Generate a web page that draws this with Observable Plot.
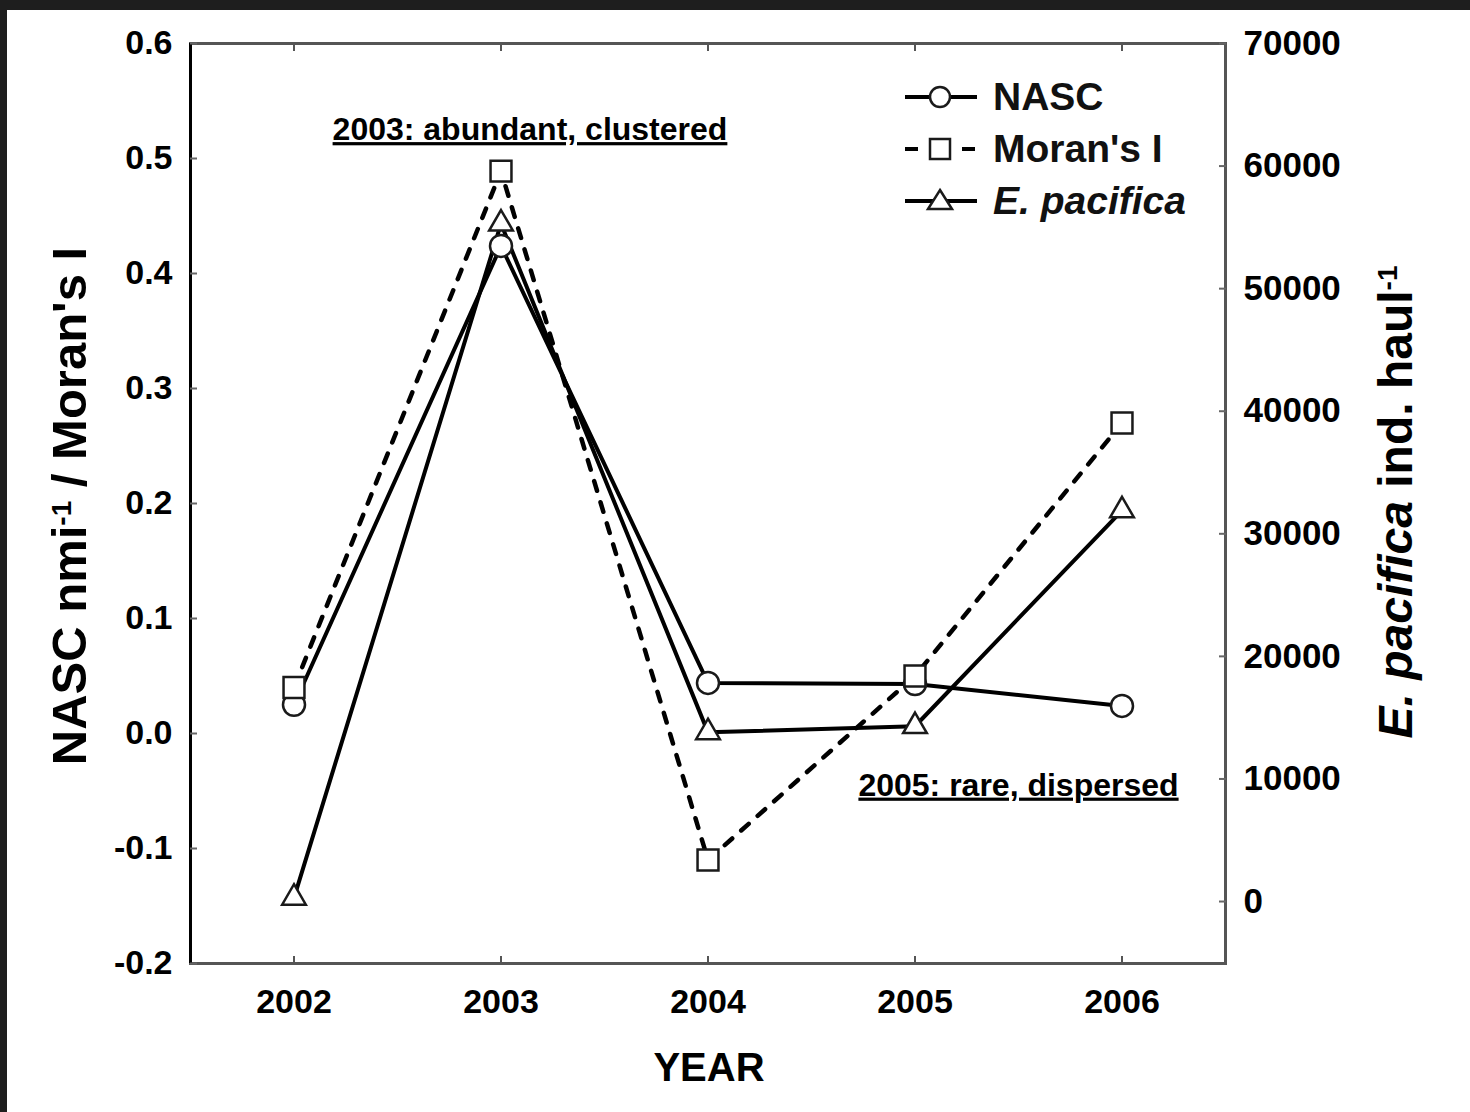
<!DOCTYPE html>
<html><head><meta charset="utf-8">
<script src="https://cdn.jsdelivr.net/npm/d3@7"></script>
<script src="https://cdn.jsdelivr.net/npm/@observablehq/plot@0.6"></script>
<style>
html,body{margin:0;padding:0;background:#1e1e1e;}
#wrap{position:absolute;left:7px;top:10px;width:1463px;height:1102px;background:#fff;overflow:hidden;}
#wrap svg{display:block;}
.legrow{position:absolute;display:flex;align-items:center;height:52px;font-family:"Liberation Sans",Arial,sans-serif;font-weight:bold;font-size:39px;color:#111;white-space:nowrap;}
.legrow svg{margin-right:12px;}
</style></head><body><div id="wrap"></div>
<script>
// ---- data ----
const years = [2002, 2003, 2004, 2005, 2006];
const nasc = [0.025, 0.424, 0.044, 0.043, 0.024];
const moransI = [0.040, 0.489, -0.110, 0.050, 0.270];
const ePacifica = [300, 55300, 13800, 14300, 31900];

const xTicks = [2002, 2003, 2004, 2005, 2006];
const leftTicks = [-0.2, -0.1, 0, 0.1, 0.2, 0.3, 0.4, 0.5, 0.6];
const leftTickLabels = ["-0.2", "-0.1", "0.0", "0.1", "0.2", "0.3", "0.4", "0.5", "0.6"];
const rightTicks = [0, 10000, 20000, 30000, 40000, 50000, 60000, 70000];
const rightTickLabels = ["0", "10000", "20000", "30000", "40000", "50000", "60000", "70000"];

const xDomain = [2001.5, 2006.5];
const leftDomain = [-0.2, 0.6];
const rightDomain = [-5056, 70000];

const annotationYears = [2003.14, 2005.5];
const annotationValues = [0.516, -0.054];
const annotationLabels = ["2003: abundant, clustered", "2005: rare, dispersed"];

const legendLabels = ["NASC", "Moran's I", "E. pacifica"];
const legendSymbols = ["circle", "square", "triangle"];

// ---- helpers ----
const toLeft = v => leftDomain[0] + (v - rightDomain[0]) / (rightDomain[1] - rightDomain[0]) * (leftDomain[1] - leftDomain[0]);
const fromLeft = y => rightDomain[0] + (y - leftDomain[0]) / (leftDomain[1] - leftDomain[0]) * (rightDomain[1] - rightDomain[0]);

const rows = years.map((year, i) => ({year, nasc: nasc[i], moran: moransI[i], epac: ePacifica[i]}));
const annotations = annotationLabels.map((label, i) => ({year: annotationYears[i], value: annotationValues[i], label}));

const FONT = "Liberation Sans, Arial, sans-serif";
const dotStyle = {fill: "#fff", stroke: "#1a1a1a", strokeWidth: 2.5};

const plot = Plot.plot({
  width: 1463, height: 1102,
  marginLeft: 183, marginTop: 33, marginRight: 245, marginBottom: 149,
  style: {fontFamily: FONT, fontWeight: "bold", background: "#fff", color: "#000"},
  x: {domain: xDomain},
  y: {domain: leftDomain},
  marks: [
    Plot.frame({stroke: "#555", strokeWidth: 3}),
    Plot.ruleX([xDomain[0]], {stroke: "#000", strokeWidth: 3}),
    Plot.axisX(xTicks, {anchor: "bottom", tickSize: -7, tickPadding: 32, tickFormat: d => String(d), fontSize: 34, fontWeight: "bold", color: "#000", stroke: "#555", strokeWidth: 2, label: null}),
    Plot.axisX(xTicks, {anchor: "top", tickSize: -7, tickFormat: () => "", stroke: "#555", strokeWidth: 2, label: null}),
    Plot.axisY(leftTicks, {anchor: "left", tickSize: -7, tickPadding: 25, fontSize: 34, fontWeight: "bold", color: "#000", stroke: "#666", strokeWidth: 2, label: null,
      tickFormat: d => leftTickLabels[leftTicks.findIndex(t => Math.abs(t - d) < 1e-9)]}),
    Plot.axisY(rightTicks.map(toLeft), {anchor: "right", tickSize: -7, tickPadding: 25, fontSize: 35, fontWeight: "bold", color: "#000", stroke: "#666", strokeWidth: 2, label: null,
      tickFormat: d => rightTickLabels[rightTicks.findIndex(t => Math.abs(t - fromLeft(d)) < 1)]}),
    Plot.line(rows, {x: "year", y: "moran", stroke: "#000", strokeWidth: 4.5, strokeDasharray: "10,12"}),
    Plot.line(rows, {x: "year", y: "nasc", stroke: "#000", strokeWidth: 4}),
    Plot.line(rows, {x: "year", y: d => toLeft(d.epac), stroke: "#000", strokeWidth: 4}),
    Plot.dot(rows, {x: "year", y: "nasc", symbol: "circle", r: 11, ...dotStyle}),
    Plot.dot(rows, {x: "year", y: d => toLeft(d.epac), symbol: "triangle", r: 8.8, ...dotStyle}),
    Plot.dot(rows, {x: "year", y: "moran", symbol: "square", r: 11.8, ...dotStyle}),
    Plot.text(annotations, {x: "year", y: "value", text: "label", fontSize: 32, fontWeight: "bold", fill: "#000", lineAnchor: "bottom"})
  ]
});

const wrap = document.getElementById("wrap");
wrap.appendChild(plot);

const svg = d3.select(plot);
// underline annotations
svg.selectAll("text").filter(function () { return annotationLabels.includes(this.textContent); })
  .style("text-decoration", "underline");

// axis titles
const lt = svg.append("text")
  .attr("transform", "translate(79,496) rotate(-90)")
  .attr("text-anchor", "middle")
  .style("font-family", FONT).style("font-weight", "bold").style("font-size", "49px").attr("fill", "#000");
lt.append("tspan").text("NASC nmi");
lt.append("tspan").attr("baseline-shift", "super").style("font-size", "28px").text("-1");
lt.append("tspan").text(" / Moran's I");

const rt = svg.append("text")
  .attr("transform", "translate(1405,492) rotate(-90)")
  .attr("text-anchor", "middle")
  .style("font-family", FONT).style("font-weight", "bold").style("font-size", "48px").attr("fill", "#000");
rt.append("tspan").style("font-style", "italic").text("E. pacifica");
rt.append("tspan").text(" ind. haul");
rt.append("tspan").attr("baseline-shift", "super").style("font-size", "28px").text("-1");

svg.append("text")
  .attr("x", 702).attr("y", 1071)
  .attr("text-anchor", "middle")
  .style("font-family", FONT).style("font-weight", "bold").style("font-size", "40px").attr("fill", "#000")
  .text("YEAR");

// legend (inside plot, top right)
const symPath = {
  circle: '<circle cx="35" cy="26" r="10" fill="#fff" stroke="#1a1a1a" stroke-width="2.5"/>',
  square: '<rect x="25" y="16" width="20" height="20" fill="#fff" stroke="#1a1a1a" stroke-width="2.5"/>',
  triangle: '<path d="M35,15 L47,34 L23,34 Z" fill="#fff" stroke="#1a1a1a" stroke-width="2.5"/>'
};
legendLabels.forEach((label, i) => {
  const row = document.createElement("div");
  row.className = "legrow";
  row.style.left = "898px";
  row.style.top = (61 + i * 52) + "px";
  const dash = legendSymbols[i] === "square" ? ' stroke-dasharray="13,44"' : '';
  row.innerHTML = `<svg width="76" height="52"><line x1="0" y1="26" x2="72" y2="26" stroke="#000" stroke-width="4"${dash}/>${symPath[legendSymbols[i]]}</svg>` +
    `<span style="${i === 2 ? 'font-style:italic;' : ''}">${label}</span>`;
  wrap.appendChild(row);
});
</script></body></html>
